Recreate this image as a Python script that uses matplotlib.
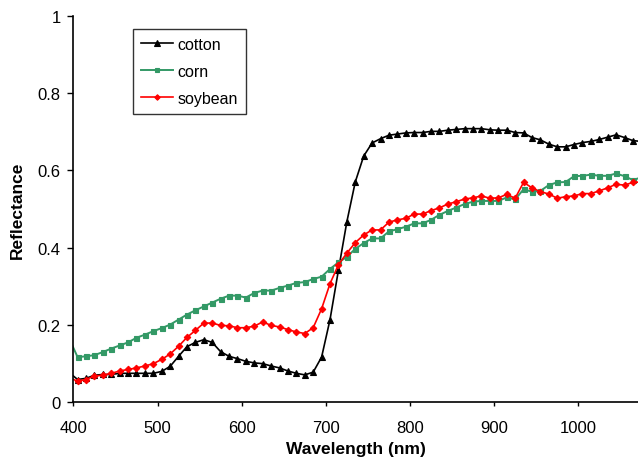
import matplotlib
matplotlib.use("Agg")
import matplotlib.pyplot as plt

plt.rcParams["font.family"] = ["Liberation Sans", "DejaVu Sans"]

# wavelength grid (nm), sampled every 10 nm
wavelength = list(range(395, 1085, 10))

cotton = [0.077,
          0.059, 0.062, 0.070, 0.072, 0.072, 0.075, 0.075, 0.075, 0.075, 0.075,
          0.080, 0.093, 0.119, 0.144, 0.155, 0.162, 0.155, 0.131, 0.119, 0.113,
          0.106, 0.102, 0.100, 0.094, 0.089, 0.081, 0.075, 0.071, 0.078, 0.117,
          0.214, 0.342, 0.467, 0.570, 0.637, 0.671, 0.682, 0.691, 0.694, 0.697,
          0.698, 0.698, 0.701, 0.701, 0.704, 0.706, 0.708, 0.708, 0.708, 0.705,
          0.704, 0.704, 0.698, 0.697, 0.685, 0.679, 0.668, 0.661, 0.661, 0.667,
          0.672, 0.675, 0.680, 0.686, 0.692, 0.685, 0.677,
          0.675]

corn = [0.165,
        0.117, 0.119, 0.122, 0.130, 0.139, 0.147, 0.155, 0.167, 0.175, 0.184,
        0.192, 0.201, 0.214, 0.227, 0.238, 0.248, 0.258, 0.268, 0.276, 0.276,
        0.271, 0.283, 0.289, 0.289, 0.296, 0.302, 0.309, 0.311, 0.319, 0.325,
        0.345, 0.362, 0.376, 0.397, 0.412, 0.424, 0.424, 0.442, 0.448, 0.454,
        0.463, 0.463, 0.472, 0.485, 0.495, 0.504, 0.513, 0.519, 0.521, 0.521,
        0.521, 0.530, 0.525, 0.551, 0.545, 0.547, 0.562, 0.569, 0.570, 0.585,
        0.586, 0.589, 0.586, 0.586, 0.592, 0.585, 0.575,
        0.582]

soybean = [0.063,
           0.055, 0.059, 0.068, 0.070, 0.075, 0.081, 0.085, 0.089, 0.094, 0.100,
           0.111, 0.125, 0.145, 0.168, 0.186, 0.205, 0.205, 0.199, 0.198, 0.193,
           0.193, 0.197, 0.208, 0.199, 0.195, 0.188, 0.182, 0.178, 0.193, 0.242,
           0.307, 0.356, 0.386, 0.413, 0.433, 0.446, 0.446, 0.466, 0.472, 0.476,
           0.487, 0.487, 0.496, 0.503, 0.513, 0.519, 0.526, 0.529, 0.534, 0.528,
           0.529, 0.538, 0.528, 0.569, 0.555, 0.545, 0.539, 0.528, 0.532, 0.534,
           0.540, 0.540, 0.547, 0.555, 0.564, 0.562, 0.569,
           0.570]

fig = plt.figure(figsize=(6.38, 4.64), dpi=100)
ax = fig.add_axes([0.115, 0.1308, 0.885, 0.833])

ax.plot(wavelength, cotton, color="black", marker="^", markersize=4.6,
        markeredgewidth=0.8, linewidth=1.2, label="cotton")
ax.plot(wavelength, corn, color="#339966", marker="s", markersize=3.6,
        markeredgewidth=0.8, linewidth=1.4, label="corn")
ax.plot(wavelength, soybean, color="#ff0000", marker="D", markersize=3.3,
        markeredgewidth=0.8, linewidth=1.2, label="soybean")

ax.set_xlim(400, 1071)
ax.set_ylim(0, 1)
ax.set_xticks([400, 500, 600, 700, 800, 900, 1000])
ax.set_yticks([0, 0.2, 0.4, 0.6, 0.8, 1.0])
ax.set_yticklabels(["0", "0.2", "0.4", "0.6", "0.8", "1"])
ax.tick_params(direction="out", width=1, labelsize=12)
ax.tick_params(axis="x", length=3, pad=10)
ax.tick_params(axis="y", length=4, pad=5)

for side in ("top", "right"):
    ax.spines[side].set_visible(False)
for side in ("left", "bottom"):
    ax.spines[side].set_linewidth(1.2)

ax.set_xlabel("Wavelength (nm)", fontsize=12.5, fontweight="bold", labelpad=4)
ax.set_ylabel("Reflectance", fontsize=12.5, fontweight="bold", labelpad=9)

leg = ax.legend(loc="upper left", bbox_to_anchor=(0.1057, 0.966), fontsize=11.5,
                frameon=True, fancybox=False, edgecolor="black",
                borderaxespad=0, handlelength=2.0, borderpad=0.5,
                labelspacing=0.75, handletextpad=0.3, markerscale=0.85)
leg.get_frame().set_linewidth(1.0)

fig.savefig("out.png", dpi=100)
